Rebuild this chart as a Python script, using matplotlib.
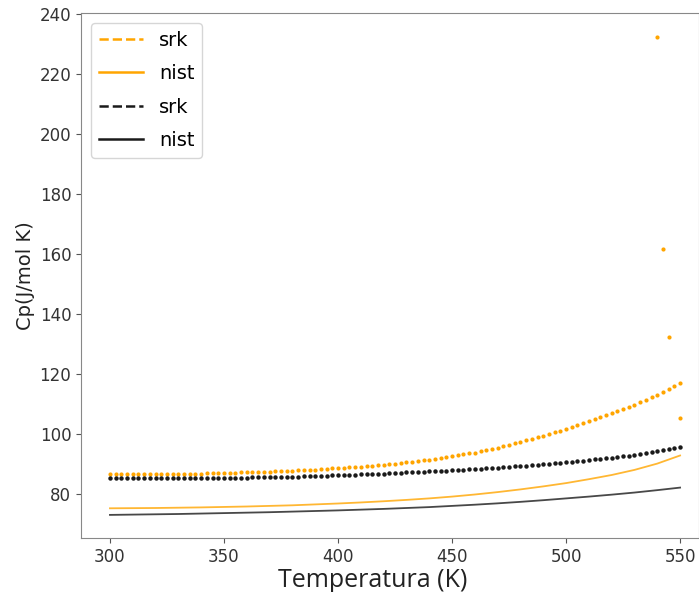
import matplotlib
matplotlib.use("Agg")
import matplotlib.pyplot as plt
from matplotlib.lines import Line2D

# Temperature grid for srk points (K), step 2.5
T_srk = [300 + 2.5 * i for i in range(101)]

# srk Cp, orange compound
cp_srk_orange = [
    86.50, 86.51, 86.53, 86.54, 86.55, 86.56, 86.58, 86.59,
    86.60, 86.63, 86.65, 86.68, 86.70, 86.73, 86.75, 86.78,
    86.80, 86.85, 86.90, 86.95, 87.00, 87.05, 87.10, 87.15,
    87.20, 87.26, 87.33, 87.39, 87.45, 87.53, 87.60, 87.68,
    87.75, 87.84, 87.93, 88.01, 88.10, 88.23, 88.35, 88.48,
    88.60, 88.73, 88.85, 88.98, 89.10, 89.25, 89.40, 89.55,
    89.70, 89.90, 90.10, 90.30, 90.50, 90.73, 90.95, 91.18,
    91.40, 91.68, 91.95, 92.23, 92.50, 92.83, 93.15, 93.48,
    93.80, 94.20, 94.60, 95.00, 95.40, 95.88, 96.35, 96.83,
    97.30, 97.83, 98.35, 98.88, 99.40, 99.98, 100.55, 101.13,
    101.70, 102.33, 102.95, 103.58, 104.20, 104.88, 105.55, 106.23,
    106.90, 107.63, 108.35, 109.08, 109.80, 110.60, 111.40, 112.20,
    113.00, 113.90, 114.90, 115.90, 117.00,
]

# srk points near the critical region that jump off the curve
T_srk_odd = [540.0, 542.5, 545.0, 550.0]
cp_srk_odd = [232.4, 161.5, 132.3, 105.3]

# srk Cp, black compound
cp_srk_black = [
    85.40, 85.38, 85.35, 85.33, 85.30, 85.29, 85.28, 85.26,
    85.25, 85.25, 85.25, 85.25, 85.25, 85.26, 85.28, 85.29,
    85.30, 85.31, 85.33, 85.34, 85.35, 85.38, 85.40, 85.43,
    85.45, 85.49, 85.53, 85.56, 85.60, 85.64, 85.68, 85.71,
    85.75, 85.80, 85.85, 85.90, 85.95, 86.01, 86.08, 86.14,
    86.20, 86.28, 86.35, 86.43, 86.50, 86.58, 86.65, 86.73,
    86.80, 86.89, 86.98, 87.06, 87.15, 87.24, 87.33, 87.41,
    87.50, 87.60, 87.70, 87.80, 87.90, 88.00, 88.10, 88.20,
    88.30, 88.43, 88.55, 88.68, 88.80, 88.93, 89.05, 89.18,
    89.30, 89.45, 89.60, 89.75, 89.90, 90.08, 90.25, 90.43,
    90.60, 90.78, 90.95, 91.13, 91.30, 91.50, 91.70, 91.90,
    92.10, 92.33, 92.55, 92.78, 93.00, 93.30, 93.60, 93.90,
    94.20, 94.60, 95.00, 95.40, 95.80,
]

# NIST reference curves (K, J/mol K)
T_nist = [300, 310, 320, 330, 340, 350, 360, 370, 380, 390, 400, 410, 420,
          430, 440, 450, 460, 470, 480, 490, 500, 510, 520, 530, 540, 550]
cp_nist_orange = [75.2, 75.25, 75.3, 75.4, 75.5, 75.65, 75.8, 76.0, 76.2, 76.5,
                  76.8, 77.15, 77.55, 78.0, 78.5, 79.1, 79.8, 80.6, 81.5, 82.5,
                  83.6, 84.9, 86.3, 88.0, 90.1, 92.8]
cp_nist_black = [73.0, 73.1, 73.2, 73.3, 73.45, 73.6, 73.75, 73.9, 74.1, 74.3,
                 74.5, 74.75, 75.0, 75.3, 75.6, 76.0, 76.4, 76.85, 77.35, 77.9,
                 78.5, 79.1, 79.75, 80.45, 81.25, 82.1]

ORANGE = "#ffa500"
BLACK = "#1a1a1a"
GREY = "#555555"

fig = plt.figure(figsize=(6.99, 5.92), dpi=100)
ax = fig.add_axes([81 / 699, 54 / 592, 618 / 699, 525 / 592])

ax.plot(T_srk, cp_srk_orange, "o", ms=3.0, color=ORANGE, mec="none")
ax.plot(T_srk_odd, cp_srk_odd, "o", ms=3.0, color=ORANGE, mec="none")
ax.plot(T_nist, cp_nist_orange, "-", lw=1.3, color=ORANGE, alpha=0.8)
ax.plot(T_srk, cp_srk_black, "o", ms=3.2, color=BLACK, mec="none")
ax.plot(T_nist, cp_nist_black, "-", lw=1.3, color=BLACK, alpha=0.8)

ax.set_xlim(287.3, 558.3)
ax.set_ylim(65.3, 240.3)
ax.set_xticks([300, 350, 400, 450, 500, 550])
ax.set_yticks([80, 100, 120, 140, 160, 180, 200, 220, 240])
ax.tick_params(labelsize=12, colors=GREY, labelcolor="#333333", length=3.5)
for sp in ax.spines.values():
    sp.set_color("#888888")

ax.set_xlabel("Temperatura (K)", fontsize=18, family="Open Sans", color="#222222")
ax.xaxis.set_label_coords(0.472, -0.058)
ax.set_ylabel("Cp(J/mol K)", fontsize=14, color="#222222", labelpad=3)

handles = [
    Line2D([], [], color=ORANGE, ls="--", lw=1.8),
    Line2D([], [], color=ORANGE, ls="-", lw=1.8),
    Line2D([], [], color=BLACK, ls="--", lw=1.8),
    Line2D([], [], color=BLACK, ls="-", lw=1.8),
]
ax.legend(handles, ["srk", "nist", "srk", "nist"], loc="upper left", fontsize=14,
          handlelength=2.3, labelspacing=0.75)

fig.savefig("out.png", dpi=100)
